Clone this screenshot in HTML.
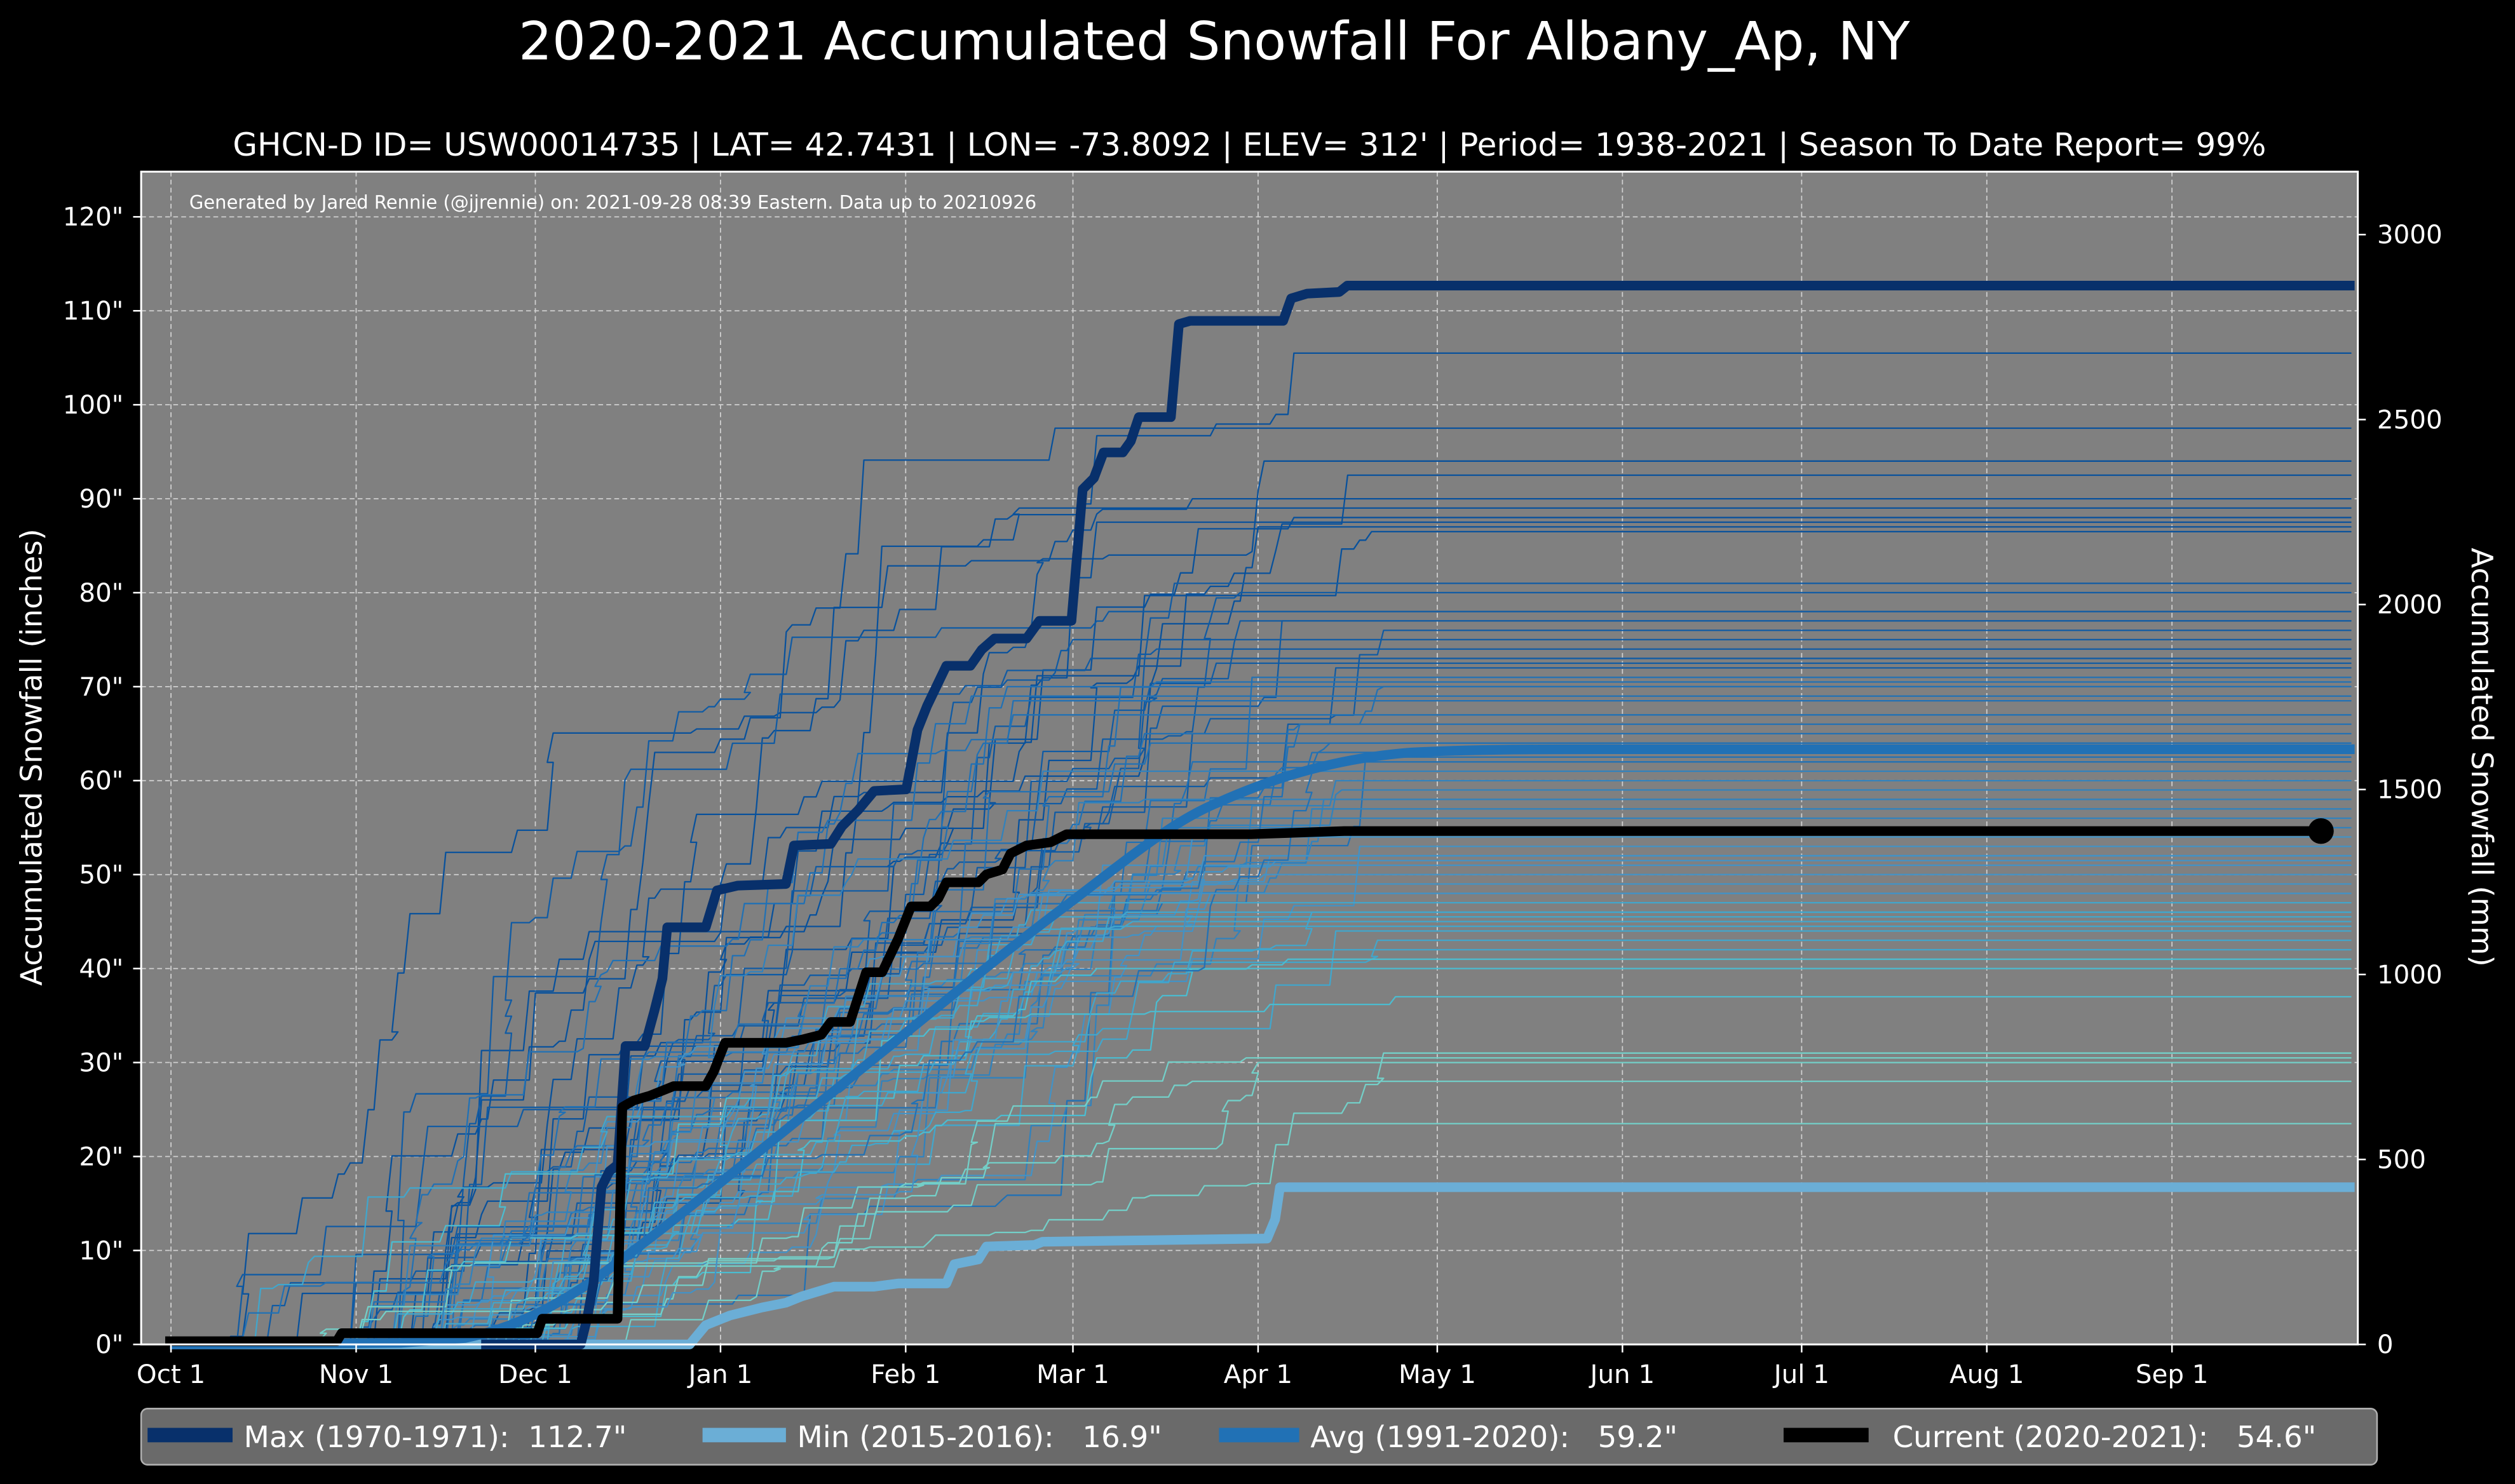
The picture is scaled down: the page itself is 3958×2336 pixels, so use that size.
<!DOCTYPE html>
<html><head><meta charset="utf-8"><style>
html,body{margin:0;padding:0;background:#000;}
svg{display:block;}
text{font-family:"DejaVu Sans","Liberation Sans",sans-serif;fill:#fff;white-space:pre;}
</style></head><body>
<svg id="s" width="3958" height="2336" viewBox="0 0 1568 925" preserveAspectRatio="none" xmlns="http://www.w3.org/2000/svg" xml:space="preserve">
<rect x="0" y="0" width="1568" height="925" fill="#000"/>
<text x="757" y="37" font-size="33" text-anchor="middle">2020-2021 Accumulated Snowfall For Albany_Ap, NY</text>
<text x="779" y="97" font-size="19.8" text-anchor="middle">GHCN-D ID= USW00014735 | LAT= 42.7431 | LON= -73.8092 | ELEV= 312' | Period= 1938-2021 | Season To Date Report= 99%</text>
<rect x="88" y="107" width="1382" height="731" fill="#808080"/>
<g id="grid" stroke="#d0d0d0" stroke-width="0.7" stroke-dasharray="3,2" fill="none"></g>
<g id="spag" fill="none" stroke-width="0.9" stroke-linejoin="round"></g>
<g fill="none" stroke-linejoin="round" stroke-width="6">
<path stroke="#6baed6" d="M106,838 L430,838 L440,826 L455,820 L475,815 L490,812 L500,808 L520,802 L545,802 L560,800 L590,800 L595,788 L610,785 L615,777 L645,776 L650,774 L720,773 L790,772 L795,760 L798,740 L1468,740"/>
<path stroke="#2171b5" d="M106,838 L250,837 L290,834 C320,828 345,815 370,798 C420,762 470,720 520,680 C570,640 620,598 660,568 C700,538 730,512 760,500 C800,482 840,472 880,469 C920,467 960,467 1000,467 L1468,467"/>
<path stroke="#08306b" d="M300,838 L362,838 L366,822 L370,800 L375,740 L380,730 L385,726 L390,652 L402,652 L408,630 L413,610 L416,578 L440,578 L447,555 L460,552 L490,551 L495,527 L518,526 L525,515 L535,505 L545,493 L565,492 L572,455 L578,440 L590,415 L605,415 L612,405 L620,398 L640,398 L648,387 L668,387 L675,305 L682,298 L688,282 L700,282 L705,275 L710,260 L730,260 L735,202 L742,200 L800,200 L805,186 L815,183 L835,182 L840,178 L1468,178"/>
<path stroke="#000" d="M103,836 L210,836 L213,831 L335,831 L338,822 L385,822 L388,690 L395,686 L405,683 L420,677 L440,677 L445,668 L452,650 L490,650 L500,648 L512,645 L518,637 L530,637 L540,606 L550,606 L560,585 L568,565 L580,565 L585,560 L590,550 L610,550 L615,545 L625,542 L630,532 L640,527 L655,525 L665,520 L780,520 L838,518 L1447,518"/>
</g>
<circle cx="1447" cy="518" r="8" fill="#000"/>
<rect x="88" y="107" width="1382" height="731" fill="none" stroke="#fff" stroke-width="1.2"/>
<text x="118" y="130" font-size="11.5">Generated by Jared Rennie (@jjrennie) on: 2021-09-28 08:39 Eastern. Data up to 20210926</text>
<g id="ticks" stroke="#fff" stroke-width="1"></g>
<g id="labels" font-size="16"></g>
<text transform="translate(26,472) rotate(-90)" font-size="18.5" text-anchor="middle">Accumulated Snowfall (inches)</text>
<text transform="translate(1541,472) rotate(90)" font-size="18.5" text-anchor="middle">Accumulated Snowfall (mm)</text>
<rect x="88" y="878" width="1394" height="35" rx="4" fill="#6a6a6a" stroke="#b0b0b0" stroke-width="1"/>
<rect x="92" y="890" width="53" height="9" fill="#08306b"/>
<text x="152" y="902" font-size="18.5">Max (1970-1971):  112.7"</text>
<rect x="438" y="890" width="52" height="9" fill="#6baed6"/>
<text x="497" y="902" font-size="18.5">Min (2015-2016):   16.9"</text>
<rect x="760" y="890" width="50" height="9" fill="#2171b5"/>
<text x="817" y="902" font-size="18.5">Avg (1991-2020):   59.2"</text>
<rect x="1112" y="890" width="53" height="9" fill="#000"/>
<text x="1180" y="902" font-size="18.5">Current (2020-2021):   54.6"</text>
</svg>
<script>
(function(){
var NS="http://www.w3.org/2000/svg";
function X(d){return 106.6+3.724*d;}
function Y(v){return 838-v*5.857;}
function el(p,n,a,t){var e=document.createElementNS(NS,n);for(var k in a)e.setAttribute(k,a[k]);if(t!==undefined)e.textContent=t;p.appendChild(e);return e;}
var grid=document.getElementById('grid'),ticks=document.getElementById('ticks'),lab=document.getElementById('labels');
var months=[["Oct 1",0],["Nov 1",31],["Dec 1",61],["Jan 1",92],["Feb 1",123],["Mar 1",151],["Apr 1",182],["May 1",212],["Jun 1",243],["Jul 1",273],["Aug 1",304],["Sep 1",335]];
months.forEach(function(m){var x=X(m[1]);el(grid,'line',{x1:x,y1:107,x2:x,y2:838});el(ticks,'line',{x1:x,y1:838,x2:x,y2:843});el(lab,'text',{x:x,y:862,'text-anchor':'middle'},m[0]);});
for(var v=0;v<=120;v+=10){var y=Y(v);if(v>0)el(grid,'line',{x1:88,y1:y,x2:1470,y2:y});el(ticks,'line',{x1:83,y1:y,x2:88,y2:y});el(lab,'text',{x:77,y:y+5.5,'text-anchor':'end'},v+'"');}
for(var mm=0;mm<=3000;mm+=500){var y2=Y(mm/25.4);el(ticks,'line',{x1:1470,y1:y2,x2:1475,y2:y2});el(lab,'text',{x:1482,y:y2+5.5},String(mm));}
var seed=12345;function r(){seed=(seed*16807)%2147483647;return (seed-1)/2147483646;}
var totals=[105.5,97.5,94,92.5,90,89,88,87.5,87,86.5,81,80,78,77,77,76,75,74,73,72.5,72,71,70.5,70,69,68.5,67,66,65,64,63,62.5,62,61,60,59,58,57,56,55,54,53,52,51.5,51,50,49,48,47,46,45.5,45,44.5,44,43,42,41,40,37,31,30.5,30,28,23.5,46,52,58,64,70,48];
var sp=document.getElementById('spag');
function col(T){if(T>=85)return '#08519c';if(T>=72)return '#105ba4';if(T>=62)return '#2171b5';if(T>=55)return '#3182bd';if(T>=48)return '#4292c6';if(T>=42)return '#41a6cc';if(T>=35)return '#4bbcd0';return '#73cfc8';}
totals.forEach(function(T){
 var s=25+r()*45, e=140+r()*70, n=14+Math.floor(r()*18);
 if(r()<0.08) s=5+r()*20;
 var ev=[];var sum=0;
 for(var i=0;i<n;i++){var d=s+Math.pow(r(),1.1)*(e-s);var a=Math.pow(r(),2)*4+0.2;ev.push([Math.floor(d),a]);sum+=a;}
 ev.sort(function(a,b){return a[0]-b[0];});
 var acc=0;var p='M'+X(0).toFixed(1)+','+Y(0).toFixed(1);
 ev.forEach(function(q){var ny=acc+q[1]/sum*T;p+=' L'+X(q[0]).toFixed(1)+','+Y(acc).toFixed(1)+' L'+X(q[0]+1).toFixed(1)+','+Y(ny).toFixed(1);acc=ny;});
 p+=' L1466,'+Y(acc).toFixed(1);
 el(sp,'path',{d:p,stroke:col(T)});
});
})();
</script>
</body></html>
